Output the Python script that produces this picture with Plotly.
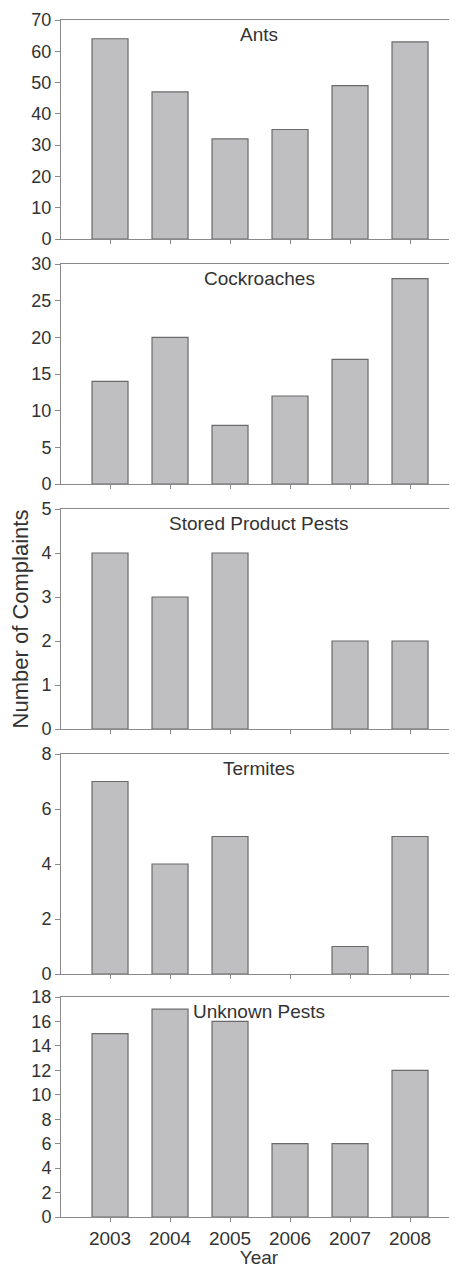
import plotly.graph_objects as go
from plotly.subplots import make_subplots

years = [2003, 2004, 2005, 2006, 2007, 2008]
year_labels = ["2003", "2004", "2005", "2006", "2007", "2008"]
panel_titles = ["Ants", "Cockroaches", "Stored Product Pests", "Termites", "Unknown Pests"]
ants = [64, 47, 32, 35, 49, 63]
cockroaches = [14, 20, 8, 12, 17, 28]
stored_product = [4, 3, 4, 0, 2, 2]
termites = [7, 4, 5, 0, 1, 5]
unknown = [15, 17, 16, 6, 6, 12]
series = [ants, cockroaches, stored_product, termites, unknown]
y_max = [70, 30, 5, 8, 18]
y_dtick = [10, 5, 1, 2, 2]

# page body has an 8px margin; figure coordinates are offset by it
OFF = 8
W, H = 457 - OFF, 1268 - OFF
T, B, L, R = 20 - OFF, 51, 61 - OFF, 0
panel_px = [(20, 239), (264, 484), (509, 729), (754, 974), (997, 1217)]
panel_px = [(a - OFF, b - OFF) for a, b in panel_px]
ph = H - T - B

FONT = "Liberation Sans, Arial"
fig = make_subplots(rows=5, cols=1)
txt = "#333333"
axc = "#8a8a8a"
for i, vals in enumerate(series):
    r = i + 1
    lw = [0 if v == 0 else 1.2 for v in vals]
    fig.add_trace(go.Bar(x=years, y=vals, width=0.6,
                         marker=dict(color="#bfbfc1", line=dict(color="#6a6a6a", width=lw)),
                         showlegend=False), row=r, col=1)
    top, bot = panel_px[i]
    dom = [1 - (bot - T) / ph, 1 - (top - T) / ph]
    xa = dict(domain=[0, 1], range=[2002.183, 2008.783], tickmode="array",
              tickvals=years, ticktext=year_labels if r == 5 else [""] * 6,
              showline=True, linecolor=axc, linewidth=1, mirror=True,
              ticks="outside", ticklen=4, tickcolor=axc, showgrid=False, zeroline=False,
              automargin=False,
              tickfont=dict(family=FONT, size=19, color=txt))
    ya = dict(domain=dom, range=[0, y_max[i]], dtick=y_dtick[i], tick0=0,
              showline=True, linecolor=axc, linewidth=1, mirror=False,
              ticks="outside", ticklen=5, tickcolor=axc, showgrid=False, zeroline=False,
              automargin=False,
              tickfont=dict(family=FONT, size=18, color=txt))
    if r == 5:
        xa["title"] = dict(text="Year", standoff=0,
                           font=dict(family=FONT, size=19, color=txt))
    if r == 3:
        ya["title"] = dict(text="Number of Complaints", standoff=10,
                           font=dict(family=FONT, size=22, color=txt))
    fig.update_xaxes(row=r, col=1, **xa)
    fig.update_yaxes(row=r, col=1, **ya)
    fig.add_annotation(text=panel_titles[i], xref="paper", x=0.5,
                       yref="paper", y=dom[1] - 14 / ph, yanchor="middle",
                       showarrow=False,
                       font=dict(family=FONT, size=19, color=txt))

fig.update_layout(width=W, height=H, margin=dict(l=L, r=R, t=T, b=B),
                  plot_bgcolor="white", paper_bgcolor="white", bargap=0.4)
fig.write_html("out.html")
